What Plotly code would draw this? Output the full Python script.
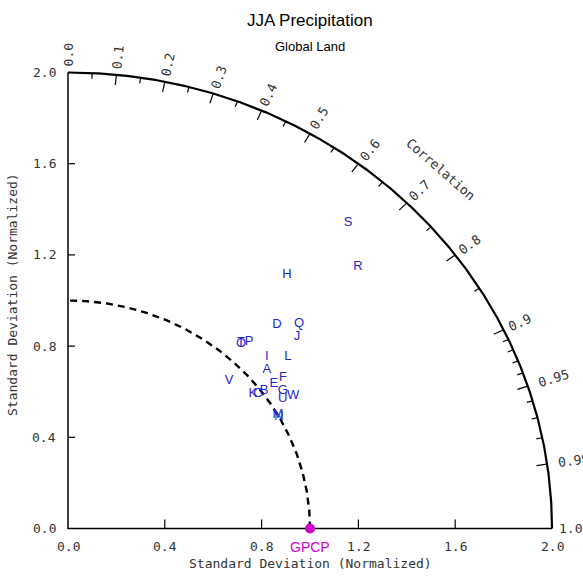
import numpy as np
import plotly.graph_objects as go

# ---- data (normalized std dev and correlation) ----
model_labels = list("ABCDEFGHIJKLMNOPQRSTUVW")
model_std = [1.076, 1.010, 0.984, 1.243, 1.061, 1.106, 1.073, 1.434, 1.115, 1.265,
             0.965, 1.180, 1.001, 1.000, 1.080, 1.108, 1.310, 1.659, 1.770, 1.083,
             1.054, 0.928, 1.097]
model_corr = [0.764, 0.802, 0.798, 0.695, 0.802, 0.803, 0.827, 0.631, 0.737, 0.748,
              0.791, 0.770, 0.867, 0.872, 0.662, 0.675, 0.729, 0.722, 0.654, 0.660,
              0.842, 0.717, 0.848]
ref_label = "GPCP"
ref_std = 1.0
ref_corr = 1.0

std_ticks = [0.0, 0.4, 0.8, 1.2, 1.6, 2.0]
corr_labels = [0.0, 0.1, 0.2, 0.3, 0.4, 0.5, 0.6, 0.7, 0.8, 0.9, 0.95, 0.99, 1.0]
corr_minor = [0.05, 0.15, 0.25, 0.35, 0.45, 0.55, 0.65, 0.75, 0.85,
              0.91, 0.92, 0.93, 0.94, 0.96, 0.97, 0.98]
std_max = 2.0

# ---- geometry ----
PXX, PXY = 242.0, 228.0   # pixels per unit (x, y)
OX, OY = 68.0, 528.5      # pixel position of origin
W, H = 583, 576
xr = [-OX / PXX, (W - OX) / PXX]
yr = [-(H - OY) / PXY, OY / PXY]

TXT = "#333333"
MONO = "DejaVu Sans Mono"
SANS = "Liberation Sans"
BLUE = "#2626c8"
MAG = "#d000d0"

fig = go.Figure()

th = np.linspace(0, np.pi / 2, 400)
# outer arc
fig.add_trace(go.Scatter(x=std_max * np.cos(th), y=std_max * np.sin(th), mode="lines",
                         line=dict(color="black", width=2.2), hoverinfo="skip", showlegend=False))
# reference dashed arc
fig.add_trace(go.Scatter(x=ref_std * np.cos(th), y=ref_std * np.sin(th), mode="lines",
                         line=dict(color="black", width=2.4, dash="7px,5px"), hoverinfo="skip",
                         showlegend=False))
# axes lines
fig.add_trace(go.Scatter(x=[0, 0, std_max], y=[std_max, 0, 0], mode="lines",
                         line=dict(color="black", width=1.5), hoverinfo="skip", showlegend=False))

# ticks
tx, ty = [], []
for v in std_ticks[1:-1]:
    tx += [v, v, None]; ty += [0, 9 / PXY, None]
    tx += [0, 7 / PXX, None]; ty += [v, v, None]
for c in corr_labels[1:-1]:
    a = np.arccos(c)
    tx += [(std_max - 0.045) * np.cos(a), std_max * np.cos(a), None]
    ty += [(std_max - 0.045) * np.sin(a), std_max * np.sin(a), None]
for c in corr_minor:
    a = np.arccos(c)
    tx += [(std_max - 0.025) * np.cos(a), std_max * np.cos(a), None]
    ty += [(std_max - 0.025) * np.sin(a), std_max * np.sin(a), None]
fig.add_trace(go.Scatter(x=tx, y=ty, mode="lines", line=dict(color="black", width=1.2),
                         hoverinfo="skip", showlegend=False))

# model letters
mx = [s * c for s, c in zip(model_std, model_corr)]
my = [s * np.sin(np.arccos(c)) for s, c in zip(model_std, model_corr)]
fig.add_trace(go.Scatter(x=mx, y=my, mode="text", text=model_labels,
                         textfont=dict(family=SANS, size=13, color=BLUE),
                         textposition="middle center", cliponaxis=False, showlegend=False))

# reference point
fig.add_trace(go.Scatter(x=[ref_std * ref_corr], y=[0], mode="markers",
                         marker=dict(color=MAG, size=10), cliponaxis=False, showlegend=False))

ann = []
tf = dict(family=MONO, size=13, color=TXT)
for v in std_ticks:
    ann.append(dict(x=v, y=-18 / PXY, text=f"{v:.1f}", showarrow=False, xanchor="center",
                    yanchor="middle", font=tf))
    ann.append(dict(x=-10 / PXX, y=v, text=f"{v:.1f}", showarrow=False, xanchor="right",
                    yanchor="middle", font=tf))
ann.append(dict(x=ref_std, y=-18 / PXY, text=ref_label, showarrow=False, xanchor="center",
                yanchor="middle", font=dict(family=SANS, size=14, color=MAG)))
ann.append(dict(x=1.0, y=-35 / PXY, text="Standard Deviation (Normalized)", showarrow=False,
                xanchor="center", yanchor="middle", font=tf))
ann.append(dict(x=-56 / PXX, y=(OY - 295) / PXY, text="Standard Deviation (Normalized)",
                showarrow=False, textangle=-90, xanchor="center", yanchor="middle", font=tf))
# correlation labels
for c in corr_labels:
    a = np.arccos(c)
    s = f"{c:g}" if c not in (0.0, 1.0) else f"{c:.1f}"
    rc = std_max + (0.075 if len(s) == 3 else 0.11)
    pang = np.degrees(np.arctan2(np.sin(a) * PXY, np.cos(a) * PXX))
    ann.append(dict(x=rc * np.cos(a), y=rc * np.sin(a), text=s, showarrow=False, textangle=-pang,
                    xanchor="center", yanchor="middle", font=tf))
ann.append(dict(x=(441 - OX) / PXX, y=(OY - 169) / PXY, text="Correlation", showarrow=False,
                textangle=41, xanchor="center", yanchor="middle", font=tf))
# titles
ann.append(dict(x=1.0, y=(OY - 20) / PXY, text="JJA Precipitation", showarrow=False, xanchor="center",
                yanchor="middle", font=dict(family=SANS, size=17, color="black")))
ann.append(dict(x=1.0, y=(OY - 46) / PXY, text="Global Land", showarrow=False, xanchor="center",
                yanchor="middle", font=dict(family=SANS, size=13, color="black")))

fig.update_layout(
    width=W, height=H, autosize=False,
    margin=dict(l=0, r=0, t=0, b=0),
    paper_bgcolor="white", plot_bgcolor="white",
    xaxis=dict(range=xr, visible=False, fixedrange=True),
    yaxis=dict(range=yr, visible=False, fixedrange=True),
    annotations=ann, showlegend=False,
)

fig.write_html("out.html", config={"displayModeBar": False},
               post_script="document.body.style.margin='0';"
                           "document.documentElement.style.overflow='hidden';")
